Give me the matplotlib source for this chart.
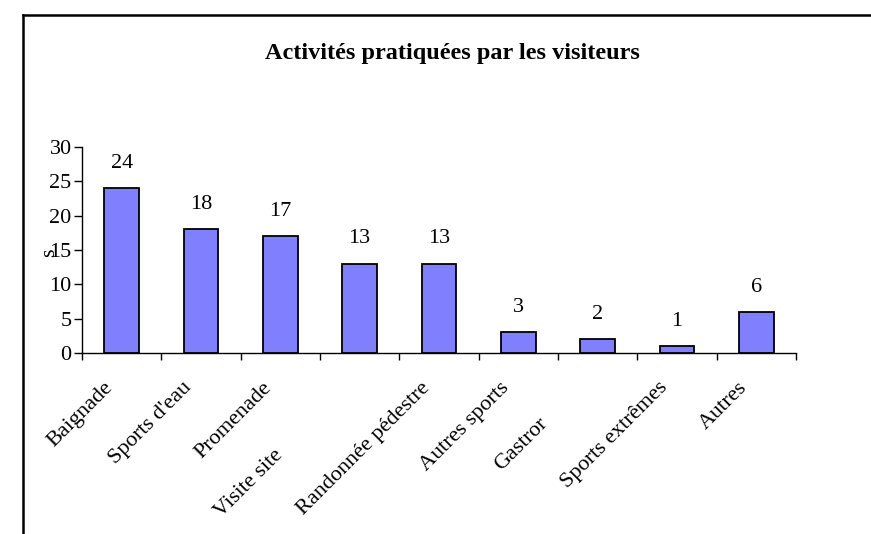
import matplotlib
matplotlib.use("Agg")
import matplotlib.pyplot as plt
from matplotlib.lines import Line2D
from matplotlib import transforms
import numpy as np

categories = ["Baignade", "Sports d'eau", "Promenade", "Visite site",
              "Randonnée pédestre", "Autres sports", "Gastror",
              "Sports extrêmes", "Autres"]
values = [24, 18, 17, 13, 13, 3, 2, 1, 6]
yticks = [0, 5, 10, 15, 20, 25, 30]
title = "Activités pratiquées par les visiteurs"

# per-label extra offsets in pixels (clipped labels sit lower along their diagonal)
label_shift = [(0, 0), (0, 0), (0, 0), (-68, -68), (0, 0), (0, 0), (-41, -36), (0, 0), (0, 0)]

plt.rcParams['font.family'] = ['Liberation Serif', 'DejaVu Serif']

W, H = 871, 534
fig = plt.figure(figsize=(W / 100, H / 100), dpi=100)
ax = fig.add_axes([82 / W, 1 - 353 / H, (796 - 82) / W, (353 - 147) / H])

x = np.arange(len(categories))
bars = ax.bar(x, values, width=0.44, color="#8080FF", edgecolor="black", linewidth=1.3, zorder=3)
ax.bar_label(bars, labels=[str(v) for v in values], padding=11, fontsize=16)

ax.set_xlim(-0.5, len(categories) - 0.5)
ax.set_ylim(0, 30)
ax.set_yticks(yticks)
ax.set_yticklabels([str(t) for t in yticks], fontsize=16)
ax.set_xticks(np.arange(len(categories) + 1) - 0.5)
ax.set_xticklabels([])
ax.tick_params(axis='y', direction='out', length=6, width=1, pad=1.5)
ax.tick_params(axis='x', direction='out', length=5, width=1)
for s in ["top", "right"]:
    ax.spines[s].set_visible(False)
for s in ["left", "bottom"]:
    ax.spines[s].set_linewidth(1)
    ax.spines[s].set_color("black")

base = transforms.blended_transform_factory(ax.transData, ax.transAxes)
for i, lab in enumerate(categories):
    dx, dy = label_shift[i]
    tr = base + transforms.ScaledTranslation((-12 + dx) / 100, (-32 + dy) / 100, fig.dpi_scale_trans)
    ax.text(i, 0, lab, transform=tr, rotation=45, rotation_mode='anchor',
            ha='right', va='center', fontsize=16)

# stray axis title glyph overlapping the "15" tick label
fig.text(50 / W, 1 - 253 / H, "s", rotation=90, fontsize=16, ha='center', va='center')

fig.text(452 / W, 1 - 53 / H, title, fontsize=17.5, fontweight='bold', ha='center', va='center')

# chart area border (top and left visible)
fig.add_artist(Line2D([23 / W, 1.0], [1 - 15 / H, 1 - 15 / H], transform=fig.transFigure,
                      color="black", linewidth=1.8))
fig.add_artist(Line2D([23 / W, 23 / W], [1 - 15 / H, 0.0], transform=fig.transFigure,
                      color="black", linewidth=1.8))

fig.savefig("out.png", dpi=100)
